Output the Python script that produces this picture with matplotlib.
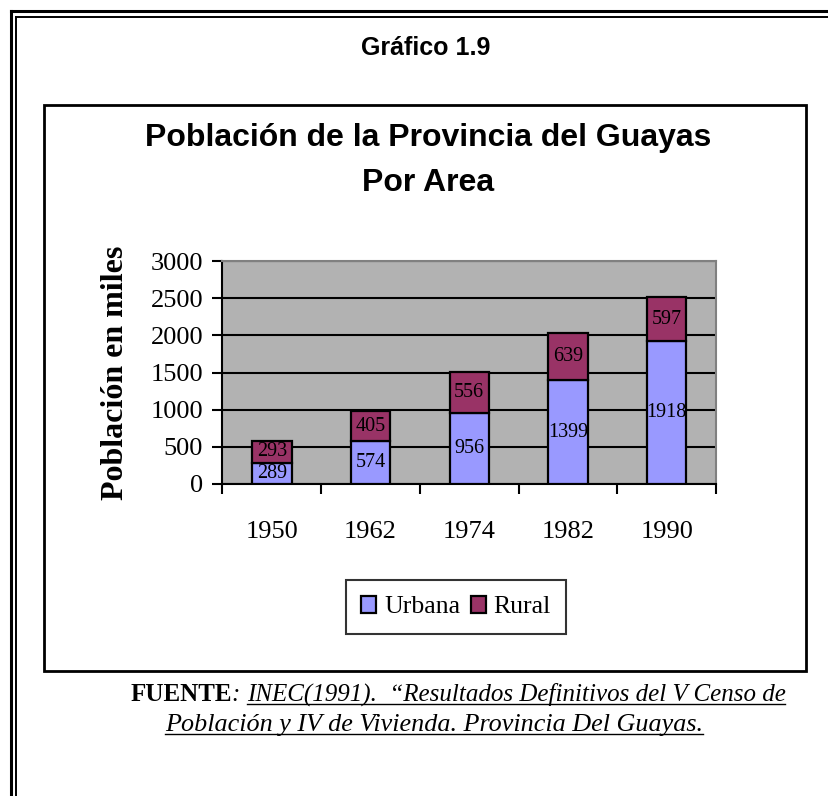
import numpy as np
import matplotlib
matplotlib.use("Agg")
import matplotlib.pyplot as plt
from matplotlib.patches import Rectangle
from matplotlib.lines import Line2D

# data (thousands of people)
years = ["1950", "1962", "1974", "1982", "1990"]
urbana = [289, 574, 956, 1399, 1918]
rural = [293, 405, 556, 639, 597]
yticks = [0, 500, 1000, 1500, 2000, 2500, 3000]

W, H = 829, 796
SANS = "Liberation Sans"
SERIF = "Liberation Serif"
c_urb = "#9999FF"
c_rur = "#993366"


def fx(px):
    return px / W


def fy(py):
    return 1 - py / H


fig = plt.figure(figsize=(W / 100, H / 100), dpi=100)
fig.patch.set_facecolor("white")

# outer double frame (runs off the right and bottom edge)
for off, lw in [(11, 2.2), (16.5, 1.4)]:
    fig.add_artist(Line2D([fx(off), 1.02], [fy(off), fy(off)], color="black", lw=lw))
    fig.add_artist(Line2D([fx(off), fx(off)], [fy(off), -0.02], color="black", lw=lw))

# chart box
fig.add_artist(Rectangle((fx(44), fy(671)), fx(806) - fx(44), fy(105) - fy(671),
                         fill=False, ec="black", lw=2.0))

fig.text(fx(426), fy(48), "Gráfico 1.9", ha="center", va="center",
         family=SANS, weight="bold", fontsize=18)
fig.text(fx(428), fy(138), "Población de la Provincia del Guayas", ha="center", va="center",
         family=SANS, weight="bold", fontsize=23)
fig.text(fx(428), fy(183), "Por Area", ha="center", va="center",
         family=SANS, weight="bold", fontsize=23)

ax = fig.add_axes([fx(222.5), fy(484), fx(716) - fx(222.5), fy(261) - fy(484)])
ax.set_facecolor("#B2B2B2")
x = np.arange(len(years))
bw = 0.4
ax.bar(x, urbana, bw, color=c_urb, edgecolor="black", lw=1.6, zorder=3, label="Urbana")
ax.bar(x, rural, bw, bottom=urbana, color=c_rur, edgecolor="black", lw=1.6, zorder=3, label="Rural")

for i in range(len(years)):
    ax.text(x[i], urbana[i] / 2, str(urbana[i]), ha="center", va="center",
            family=SERIF, fontsize=14.5, zorder=4)
    ax.text(x[i], urbana[i] + rural[i] / 2, str(rural[i]), ha="center", va="center",
            family=SERIF, fontsize=14.5, zorder=4)

ax.set_xlim(-0.5, len(years) - 0.5)
ax.set_ylim(0, 3000)
ax.set_yticks(yticks)
ax.set_yticklabels([str(v) for v in yticks], family=SERIF, fontsize=19)
ax.yaxis.grid(True, color="black", lw=1.5, zorder=1)
ax.set_axisbelow(True)

# category ticks sit between bars, labels in the middle
ax.set_xticks(np.arange(len(years) + 1) - 0.5)
ax.set_xticklabels([])
ax.set_xticks(x, minor=True)
ax.set_xticklabels(years, minor=True, family=SERIF, fontsize=19)
ax.tick_params(axis="x", which="minor", length=0, pad=27)
ax.tick_params(axis="x", which="major", length=7, width=1.5, direction="out")
ax.tick_params(axis="y", length=7, width=1.5, direction="out", pad=7)

ax.spines["left"].set_linewidth(1.5)
ax.spines["bottom"].set_linewidth(1.5)
ax.spines["top"].set_color("#808080")
ax.spines["right"].set_color("#808080")
ax.spines["top"].set_linewidth(1.5)
ax.spines["right"].set_linewidth(1.5)

fig.text(fx(116), fy(373), "Población en miles", rotation=90, ha="center", va="center",
         family=SERIF, weight="bold", fontsize=23)

leg = ax.legend(loc="center", bbox_to_anchor=(fx(456), fy(607)), bbox_transform=fig.transFigure,
                ncol=2, frameon=True, fancybox=False, edgecolor="black",
                prop={"family": SERIF, "size": 18.5}, handlelength=0.6, handleheight=0.7,
                handletextpad=0.3, columnspacing=0.4, borderpad=0.6)
leg.get_frame().set_linewidth(1.5)

# source note, with underlined italic part
fig.canvas.draw()
r = fig.canvas.get_renderer()
y1, y2 = fy(701), fy(731)
fs1 = 18
pieces = [("FUENTE", "normal", "bold"), (": ", "italic", "normal"),
          ("INEC(1991).  \u201cResultados Definitivos del V Censo de", "italic", "normal")]
texts = []
for s, st, wt in pieces:
    texts.append(fig.text(0, y1, s, family=SERIF, style=st, weight=wt, fontsize=fs1, va="baseline"))
widths = [t.get_window_extent(r).width for t in texts]
xpos = 458 - sum(widths) / 2
for t, w in zip(texts, widths):
    t.set_x(xpos / W)
    xpos += w
bb = texts[-1].get_window_extent(r)
fig.add_artist(Line2D([bb.x0 / W, bb.x1 / W], [y1 - 3 / H, y1 - 3 / H], color="black", lw=1))
t_2 = fig.text(fx(434), y2, "Población y IV de Vivienda. Provincia Del Guayas.",
               family=SERIF, style="italic", fontsize=18.8, va="baseline", ha="center")
bb = t_2.get_window_extent(r)
fig.add_artist(Line2D([bb.x0 / W, bb.x1 / W], [y2 - 3 / H, y2 - 3 / H], color="black", lw=1))

fig.savefig("out.png", dpi=100, facecolor="white")
